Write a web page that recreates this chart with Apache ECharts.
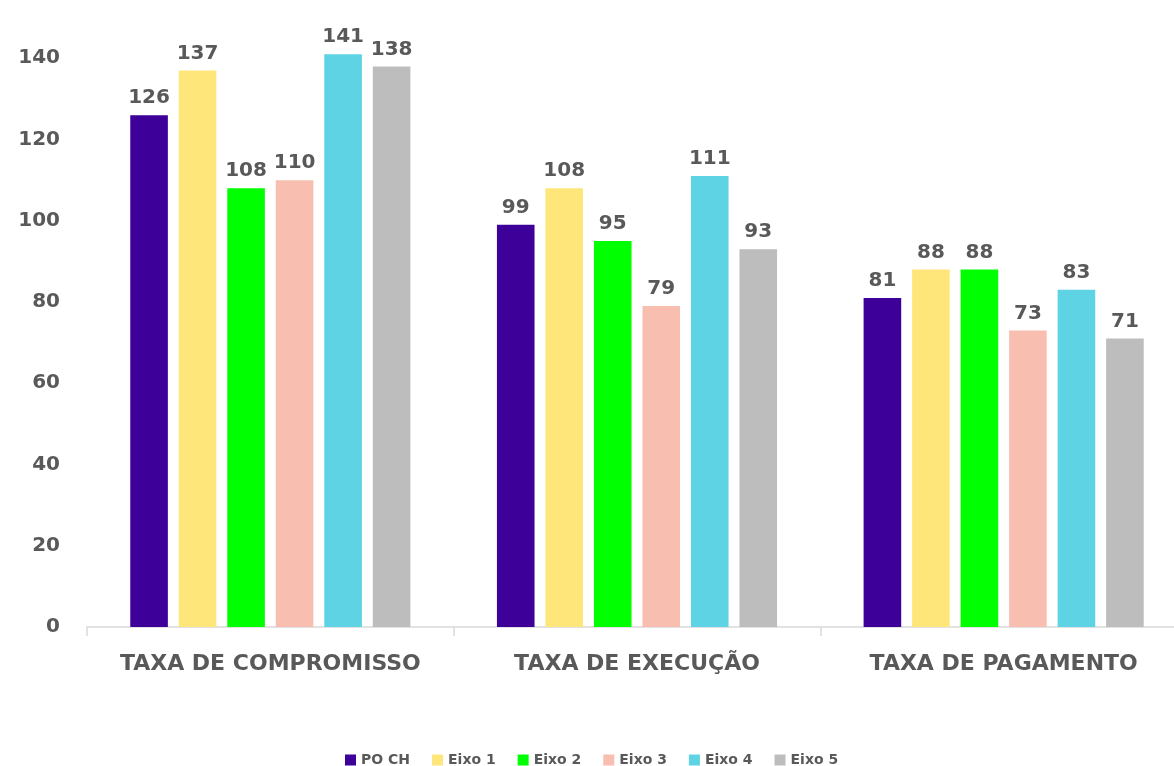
<!DOCTYPE html>
<html>
<head>
<meta charset="utf-8">
<script src="https://cdn.jsdelivr.net/npm/echarts@6/dist/echarts.min.js"></script>
<style>
  html, body { margin: 0; padding: 0; background: #fff; }
  #chart { width: 1174px; height: 766px; }
</style>
</head>
<body>
<div id="chart"></div>
<script>
const categories = ['TAXA DE COMPROMISSO', 'TAXA DE EXECUÇÃO', 'TAXA DE PAGAMENTO']
const seriesNames = ['PO CH', 'Eixo 1', 'Eixo 2', 'Eixo 3', 'Eixo 4', 'Eixo 5']
const poCh = [126, 99, 81]
const eixo1 = [137, 108, 88]
const eixo2 = [108, 95, 88]
const eixo3 = [110, 79, 73]
const eixo4 = [141, 111, 83]
const eixo5 = [138, 93, 71]
const colors = ['#3D0099', '#FFE67A', '#00FF00', '#F8BFB0', '#5ED3E3', '#BDBDBD']

const font = '"DejaVu Sans", sans-serif'
const textColor = '#595959'
const values = [poCh, eixo1, eixo2, eixo3, eixo4, eixo5]

const myChart = echarts.init(document.getElementById('chart'))
const option = {
  animation: false,
  color: colors,
  textStyle: { fontFamily: font },
  grid: {
    left: 87, right: -13, top: -23, bottom: 139,
    containLabel: false,
    outerBoundsMode: 'none'
  },
  legend: {
    top: 748,
    left: 340,
    itemWidth: 11,
    itemHeight: 11,
    itemGap: 22,
    icon: 'rect',
    textStyle: { fontFamily: font, fontSize: 14, fontWeight: 'bold', color: textColor },
    data: seriesNames
  },
  xAxis: {
    type: 'category',
    data: categories,
    axisLine: { lineStyle: { color: '#D9D9D9', width: 1.5 } },
    axisTick: { show: true, interval: 0, length: 9, lineStyle: { color: '#D9D9D9', width: 1.5 } },
    axisLabel: {
      interval: 0, hideOverlap: false,
      fontFamily: font, fontSize: 22, fontWeight: 'bold', color: textColor, margin: 26
    }
  },
  yAxis: {
    type: 'value',
    min: 0,
    max: 160,
    interval: 20,
    axisLine: { show: false },
    axisTick: { show: false },
    splitLine: { show: false },
    axisLabel: { fontFamily: font, fontSize: 20, fontWeight: 'bold', color: textColor, margin: 27 }
  },
  series: seriesNames.map((name, i) => ({
    name: name,
    type: 'bar',
    data: values[i],
    barGap: '29%',
    barCategoryGap: '23.6%',
    label: {
      show: true,
      position: 'top',
      distance: 7,
      fontFamily: font,
      fontSize: 20,
      fontWeight: 'bold',
      color: textColor
    }
  }))
}
myChart.setOption(option, true)
</script>
</body>
</html>
